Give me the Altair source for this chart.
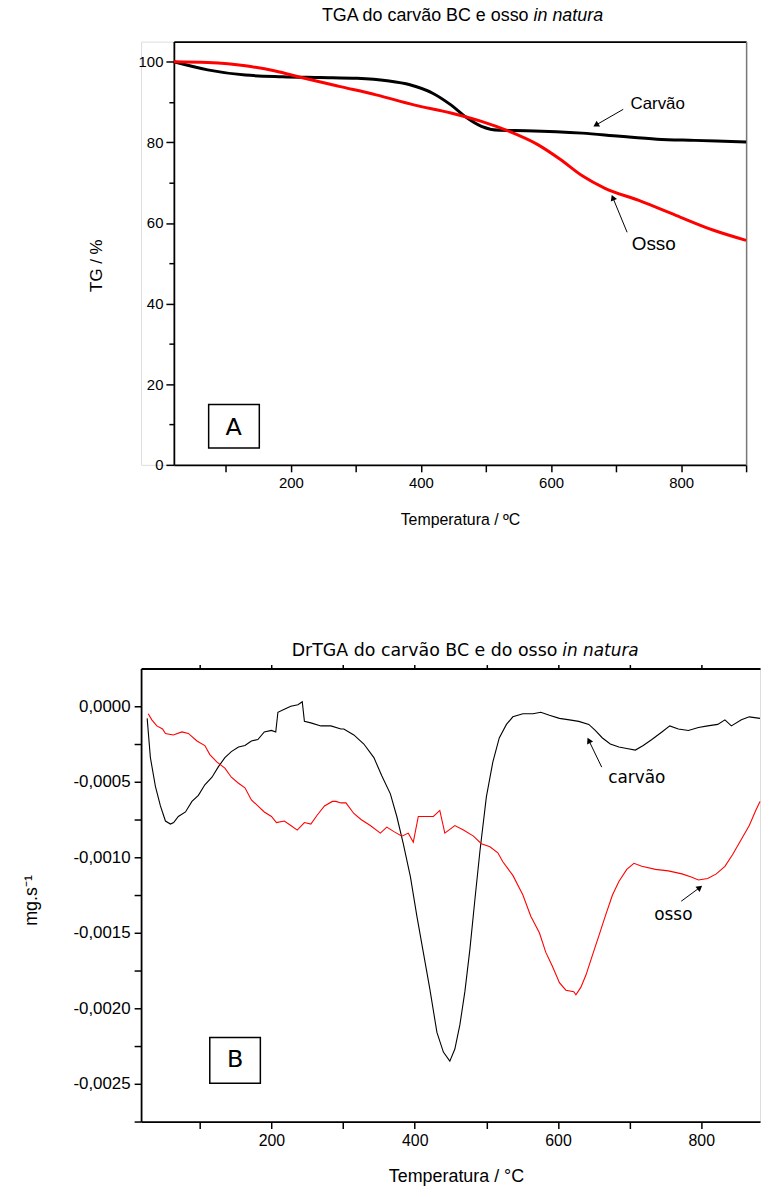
import altair as alt
import pandas as pd

# ---------------- Panel A: TGA ----------------
tga_carvao_T = [20, 72, 130, 187, 245, 302, 348, 383, 418, 446, 470, 493, 521, 562, 648, 706, 763, 821, 900]
tga_carvao_V = [100, 98.0, 96.7, 96.3, 96.1, 95.9, 95.3, 94.3, 92.2, 89.3, 86.2, 84.0, 83.0, 82.9, 82.3, 81.5, 80.8, 80.5, 80.1]
tga_osso_T = [20, 72, 130, 176, 216, 274, 331, 389, 446, 493, 533, 579, 614, 648, 683, 735, 792, 850, 900]
tga_osso_V = [100, 99.8, 99.0, 97.7, 96.1, 93.9, 91.8, 89.3, 87.3, 85.2, 82.9, 79.5, 75.8, 71.7, 68.6, 65.6, 61.9, 58.2, 55.7]

# ---------------- Panel B: DrTGA ----------------
dtg_carvao_T = [26.5, 31, 38, 45, 52, 59, 63.5, 70, 80, 89, 98, 107, 117, 126, 135, 144, 154, 163, 172, 181,
                190, 200, 206, 209, 218, 227, 237, 243, 246, 255, 269, 283, 297, 301, 315, 329, 343, 354, 366, 375,
                384, 394, 403, 412, 421, 431, 440, 449, 456, 463, 470, 477, 484, 491, 500, 509, 518, 528, 537, 551,
                565, 576, 588, 602, 616, 629, 643, 652, 662, 673, 685, 696, 708, 719, 731, 745, 756, 768, 782, 796,
                809, 823, 833, 842, 856, 867, 882]
dtg_carvao_V = [-0.00008, -0.00034, -0.00053, -0.00066, -0.00076, -0.00078, -0.00077, -0.00073, -0.00070, -0.00063,
                -0.00059, -0.00052, -0.00047, -0.00040, -0.00034, -0.00030, -0.00027, -0.00026, -0.00023, -0.00022,
                -0.00017, -0.00016, -0.00017, -0.00004, -0.00002, 0.0, 0.00001, 0.00003, -0.00010, -0.00011,
                -0.00013, -0.00013, -0.00015, -0.00015, -0.00019, -0.00025, -0.00034, -0.00046, -0.00058, -0.00073,
                -0.00091, -0.00113, -0.00139, -0.00163, -0.00187, -0.00216, -0.00229, -0.00235, -0.00227, -0.00211,
                -0.00189, -0.00161, -0.00128, -0.00096, -0.00060, -0.00037, -0.00021, -0.00012, -0.00007, -0.00005,
                -0.00005, -0.00004, -0.00006, -0.00008, -0.00009, -0.00010, -0.00012, -0.00016, -0.00021, -0.00025,
                -0.00027, -0.00028, -0.00029, -0.00026, -0.00022, -0.00017, -0.00013, -0.00015, -0.00016, -0.00014,
                -0.00013, -0.00012, -0.00009, -0.00013, -0.00009, -0.00007, -0.00008]
dtg_osso_T = [28, 33, 40, 48, 52, 63, 75, 84, 96, 107, 114, 124, 135, 144, 154, 163, 172, 181, 190, 200,
              207, 218, 227, 236, 246, 255, 264, 274, 285, 290, 297, 304, 315, 325, 338, 352, 361, 371, 382, 391,
              398, 405, 417, 426, 435, 442, 456, 468, 482, 493, 505, 516, 523, 537, 551, 562, 574, 583, 592, 602,
              611, 622, 625, 632, 639, 648, 657, 666, 676, 685, 696, 706, 717, 736, 754, 773, 786, 796, 809, 821,
              833, 844, 856, 867, 876, 882]
dtg_osso_V = [-0.00005, -0.00009, -0.00013, -0.00015, -0.00018, -0.00019, -0.00017, -0.00018, -0.00023, -0.00026,
              -0.00032, -0.00037, -0.00041, -0.00047, -0.00051, -0.00054, -0.00062, -0.00066, -0.00070, -0.00073,
              -0.00077, -0.00076, -0.00079, -0.00082, -0.00077, -0.00078, -0.00072, -0.00066, -0.00063, -0.00063,
              -0.00064, -0.00064, -0.00071, -0.00075, -0.00079, -0.00084, -0.00080, -0.00083, -0.00086, -0.00084,
              -0.00090, -0.00073, -0.00073, -0.00073, -0.00069, -0.00084, -0.00079, -0.00082, -0.00086, -0.00091,
              -0.00093, -0.00097, -0.00103, -0.00112, -0.00125, -0.00139, -0.00150, -0.00163, -0.00172, -0.00183,
              -0.00188, -0.00189, -0.00191, -0.00186, -0.00178, -0.00165, -0.00152, -0.00139, -0.00125, -0.00116,
              -0.00108, -0.00104, -0.00106, -0.00108, -0.00109, -0.00111, -0.00113, -0.00115, -0.00114, -0.00111,
              -0.00106, -0.00098, -0.00088, -0.00079, -0.00069, -0.00063]

# ---------------- texts ----------------
top_title_regular = "TGA do carvão BC e osso"
top_title_italic = "in natura"
bot_title_regular = "DrTGA do carvão BC e do osso"
bot_title_italic = "in natura"
x_title_top = "Temperatura / ºC"
x_title_bot = "Temperatura / °C"
y_title_top = "TG / %"
y_title_bot = "mg.s⁻¹"

# annotation anchors (data coordinates)
top_labels = pd.DataFrame({"T": [764, 758], "V": [89.5, 54.8], "txt": ["Carvão", "Osso"], "fs": [17, 19]})
top_arrows = pd.DataFrame({"T": [711, 717], "V": [88.2, 57.7], "T2": [669, 695], "V2": [84.3, 66.3]})
bot_labels = pd.DataFrame({"T": [710, 761], "V": [-0.000475, -0.001384], "txt": ["carvão", "osso"]})
bot_arrows = pd.DataFrame({"T": [661, 772], "V": [-0.000403, -0.001291], "T2": [643, 798], "V2": [-0.000226, -0.0012]})
box_a = pd.DataFrame({"T": [73.5], "T2": [151.4], "V": [15.0], "V2": [4.2], "Tc": [112], "Vc": [9.2], "txt": ["A"]})
box_b = pd.DataFrame({"T": [113.9], "T2": [184.5], "V": [-0.002193], "V2": [-0.002496], "Tc": [149.5], "Vc": [-0.00234], "txt": ["B"]})

FONT = "Liberation Sans"
FONT2 = "DejaVu Sans"


def axis(**kw):
    base = dict(grid=False, titleFontWeight="normal", titleFont=FONT, labelFont=FONT,
                domainColor="black", tickColor="black", labelColor="black", titleColor="black",
                domainWidth=1.8, tickWidth=1.5)
    base.update(kw)
    return alt.Axis(**base)


# ======================= TOP PANEL =======================
xs_t = alt.Scale(domain=[20, 900], range=[33, 609], nice=False, zero=False)
ys_t = alt.Scale(domain=[0, 105], nice=False, zero=False)

df_tc = pd.DataFrame({"T": tga_carvao_T, "V": tga_carvao_V})
df_to = pd.DataFrame({"T": tga_osso_T, "V": tga_osso_V})

t_carvao = alt.Chart(df_tc).mark_line(color="black", strokeWidth=3, interpolate="monotone").encode(
    x=alt.X("T:Q", scale=xs_t, axis=axis(orient="bottom", values=[200, 400, 600, 800], title=x_title_top,
                                         titleY=55, titleBaseline="middle", titleFontSize=16,
                                         labelFontSize=15, tickSize=7, labelPadding=4)),
    y=alt.Y("V:Q", scale=ys_t, axis=axis(orient="left", values=[0, 20, 40, 60, 80, 100], offset=-33,
                                         title=y_title_top, titleX=-78, titleY=225, titleAngle=270,
                                         titleAlign="center", titleBaseline="middle", titleFontSize=17,
                                         labelFontSize=15, tickSize=8, labelPadding=3)),
)
t_osso = alt.Chart(df_to).mark_line(color="#ff0000", strokeWidth=3, interpolate="monotone").encode(
    x=alt.X("T:Q", scale=xs_t, axis=axis(orient="top", ticks=False, labels=False, title=None)),
    y=alt.Y("V:Q", scale=ys_t, axis=axis(orient="right", ticks=False, labels=False, title=None,
                                         domainColor="#777777", domainWidth=1.5)),
)
t_box = alt.Chart(box_a).mark_rect(fill="white", stroke="black", strokeWidth=1.5).encode(
    x=alt.X("T:Q", scale=xs_t, axis=axis(orient="bottom", values=[100, 300, 500, 700, 900], labels=False,
                                         domain=False, title=None, tickSize=7)),
    x2="T2:Q",
    y=alt.Y("V:Q", scale=ys_t, axis=axis(orient="left", values=[10, 30, 50, 70, 90], labels=False,
                                         domain=False, title=None, tickSize=5, offset=-33)),
    y2="V2:Q",
)
t_box_txt = alt.Chart(box_a).mark_text(font=FONT2, fontSize=24, baseline="middle").encode(
    x=alt.X("Tc:Q", scale=xs_t, axis=None), y=alt.Y("Vc:Q", scale=ys_t, axis=None), text="txt:N")
t_lab = alt.Chart(top_labels).mark_text(font=FONT, baseline="middle").encode(
    x=alt.X("T:Q", scale=xs_t, axis=None), y=alt.Y("V:Q", scale=ys_t, axis=None), text="txt:N",
    size=alt.Size("fs:Q", scale=None, legend=None))
t_arr = alt.Chart(top_arrows).mark_rule(color="black", strokeWidth=1).encode(
    x=alt.X("T:Q", scale=xs_t, axis=None), x2="T2:Q", y=alt.Y("V:Q", scale=ys_t, axis=None), y2="V2:Q")
t_head1 = alt.Chart(top_arrows.iloc[[0]]).mark_point(shape="triangle-up", filled=True, color="black",
                                                      size=45, angle=239, opacity=1).encode(
    x=alt.X("T2:Q", scale=xs_t, axis=None), y=alt.Y("V2:Q", scale=ys_t, axis=None))
t_head2 = alt.Chart(top_arrows.iloc[[1]]).mark_point(shape="triangle-up", filled=True, color="black",
                                                      size=45, angle=338, opacity=1).encode(
    x=alt.X("T2:Q", scale=xs_t, axis=None), y=alt.Y("V2:Q", scale=ys_t, axis=None))
t_title1 = alt.Chart(pd.DataFrame({"t": [top_title_regular]})).mark_text(
    font=FONT, fontSize=18, align="right", baseline="middle").encode(
    text="t:N", x=alt.value(390), y=alt.value(-26))
t_title2 = alt.Chart(pd.DataFrame({"t": [top_title_italic]})).mark_text(
    font=FONT, fontSize=18, fontStyle="italic", align="left", baseline="middle").encode(
    text="t:N", x=alt.value(395), y=alt.value(-26))

top = alt.layer(t_box, t_carvao, t_osso, t_box_txt, t_lab, t_arr, t_head1, t_head2, t_title1, t_title2).resolve_axis(
    x="independent", y="independent").properties(width=609, height=426)

# ======================= BOTTOM PANEL =======================
xs_b = alt.Scale(domain=[18, 882], nice=False, zero=False)
ys_b = alt.Scale(domain=[-0.00275, 0.00025], nice=False, zero=False)
lab_expr = "replace(replace(format(datum.value, '.4f'), '.', ','), '\u2212', '-')"

df_bc = pd.DataFrame({"T": dtg_carvao_T, "V": dtg_carvao_V})
df_bo = pd.DataFrame({"T": dtg_osso_T, "V": dtg_osso_V})

b_carvao = alt.Chart(df_bc).mark_line(color="black", strokeWidth=1.1).encode(
    x=alt.X("T:Q", scale=xs_b, axis=axis(orient="bottom", values=[200, 400, 600, 800], title=x_title_bot,
                                         titleX=317, titleY=55, titleBaseline="middle", titleFontSize=18,
                                         labelFontSize=16, tickSize=7, labelPadding=4)),
    y=alt.Y("V:Q", scale=ys_b, axis=axis(orient="left", values=[0, -0.0005, -0.001, -0.0015, -0.002, -0.0025],
                                         labelExpr=lab_expr, title=y_title_bot, titleX=-110, titleY=233,
                                         titleAngle=270, titleAlign="center", titleBaseline="middle",
                                         titleFontSize=18, labelFontSize=17, tickSize=7, labelPadding=4)),
)
b_osso = alt.Chart(df_bo).mark_line(color="#ff0000", strokeWidth=1.1).encode(
    x=alt.X("T:Q", scale=xs_b, axis=axis(orient="top", values=[100, 200, 300, 400, 500, 600, 700, 800],
                                         labels=False, title=None, tickSize=4)),
    y=alt.Y("V:Q", scale=ys_b, axis=None),
)
b_box = alt.Chart(box_b).mark_rect(fill="white", stroke="black", strokeWidth=1.5).encode(
    x=alt.X("T:Q", scale=xs_b, axis=axis(orient="bottom", values=[100, 300, 500, 700], labels=False,
                                         domain=False, title=None, tickSize=7)),
    x2="T2:Q",
    y=alt.Y("V:Q", scale=ys_b, axis=axis(orient="left",
                                         values=[-0.00025, -0.00075, -0.00125, -0.00175, -0.00225, -0.00275],
                                         labels=False, domain=False, title=None, tickSize=7)),
    y2="V2:Q",
)
b_box_txt = alt.Chart(box_b).mark_text(font=FONT2, fontSize=24, baseline="middle").encode(
    x=alt.X("Tc:Q", scale=xs_b, axis=None), y=alt.Y("Vc:Q", scale=ys_b, axis=None), text="txt:N")
b_lab = alt.Chart(bot_labels).mark_text(font=FONT2, fontSize=17, baseline="middle").encode(
    x=alt.X("T:Q", scale=xs_b, axis=None), y=alt.Y("V:Q", scale=ys_b, axis=None), text="txt:N")
b_arr = alt.Chart(bot_arrows).mark_rule(color="black", strokeWidth=1).encode(
    x=alt.X("T:Q", scale=xs_b, axis=None), x2="T2:Q", y=alt.Y("V:Q", scale=ys_b, axis=None), y2="V2:Q")
b_head1 = alt.Chart(bot_arrows.iloc[[0]]).mark_point(shape="triangle-up", filled=True, color="black",
                                                      size=45, angle=334, opacity=1).encode(
    x=alt.X("T2:Q", scale=xs_b, axis=None), y=alt.Y("V2:Q", scale=ys_b, axis=None))
b_head2 = alt.Chart(bot_arrows.iloc[[1]]).mark_point(shape="triangle-up", filled=True, color="black",
                                                      size=45, angle=52, opacity=1).encode(
    x=alt.X("T2:Q", scale=xs_b, axis=None), y=alt.Y("V2:Q", scale=ys_b, axis=None))
b_title1 = alt.Chart(pd.DataFrame({"t": [bot_title_regular]})).mark_text(
    font=FONT2, fontSize=17.5, align="right", baseline="middle").encode(
    text="t:N", x=alt.value(419), y=alt.value(-18))
b_title2 = alt.Chart(pd.DataFrame({"t": [bot_title_italic]})).mark_text(
    font=FONT2, fontSize=17, fontStyle="italic", align="left", baseline="middle").encode(
    text="t:N", x=alt.value(424), y=alt.value(-18))

bottom = alt.layer(b_box, b_carvao, b_osso, b_box_txt, b_lab, b_arr, b_head1, b_head2, b_title1, b_title2).resolve_axis(
    x="independent", y="independent").properties(width=623, height=456)

chart = alt.vconcat(top, bottom, spacing=113).properties(
    padding={"left": 22, "top": 2, "right": 0, "bottom": 0}
).configure_view(stroke=None).configure_axis(
    grid=False, titleFontWeight="normal"
).configure(background="white")

chart.save("out.html", embed_options={"renderer": "svg", "actions": False})
